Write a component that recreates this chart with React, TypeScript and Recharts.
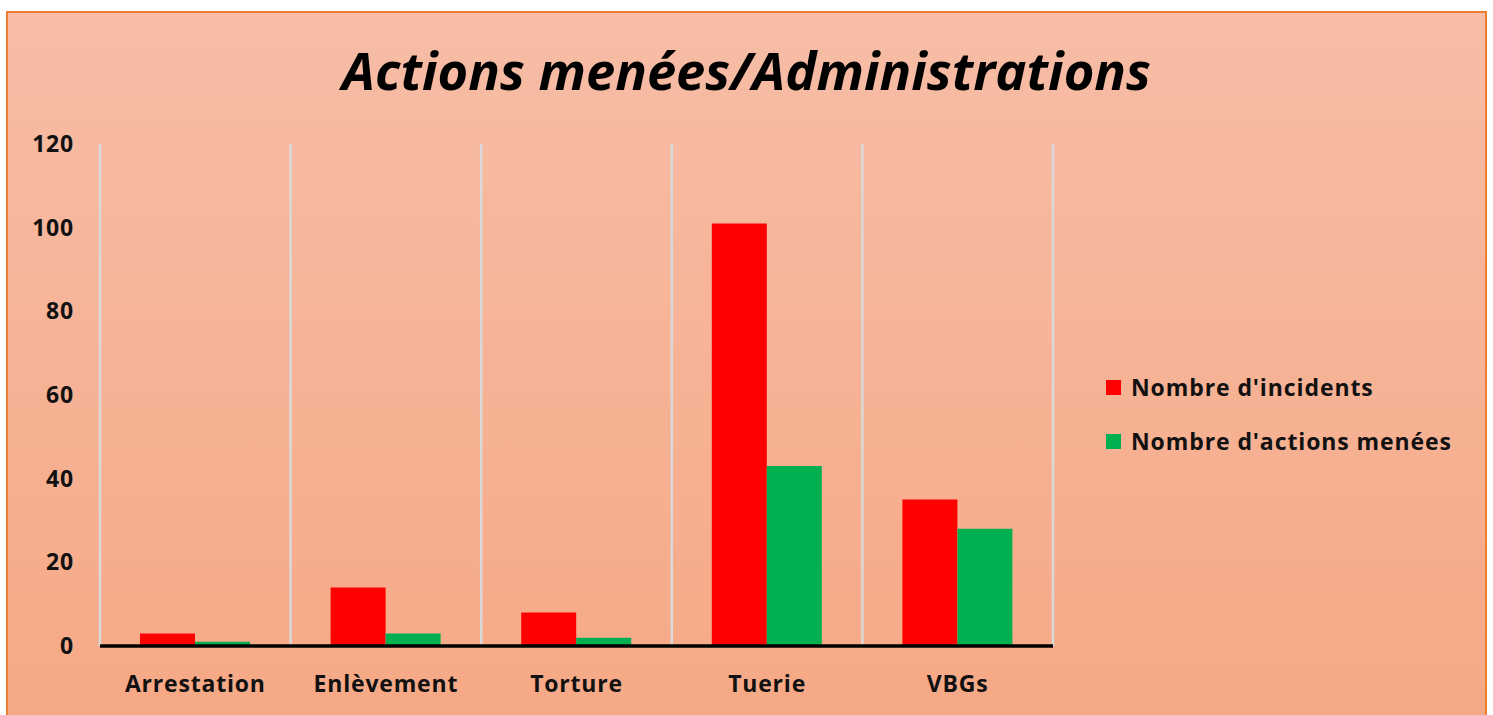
import { BarChart, Bar, XAxis, YAxis, CartesianGrid } from 'recharts';

const categories = ['Arrestation', 'Enlèvement', 'Torture', 'Tuerie', 'VBGs'];
const incidents = [3, 14, 8, 101, 35];
const actions = [1, 3, 2, 43, 28];
const yTicks = [0, 20, 40, 60, 80, 100, 120];

const SERIES = [
  { key: 'incidents', name: "Nombre d'incidents", color: '#ff0000' },
  { key: 'actions', name: "Nombre d'actions menées", color: '#00b050' },
];

const FONT = '"Open Sans", sans-serif';
const TICK = { fontFamily: FONT, fontWeight: 700, fontSize: 23, fill: '#111', letterSpacing: 0.8 };

const data = categories.map((c, i) => ({ name: c, incidents: incidents[i], actions: actions[i] }));

// legend sits outside the chart so it doesn't eat into the plot area
function LegendBox() {
  return (
    <div
      style={{
        position: 'absolute',
        left: 1106,
        top: 360,
        fontFamily: FONT,
        fontWeight: 700,
        fontSize: 23,
        letterSpacing: 0.9,
        color: '#111',
      }}
    >
      {SERIES.map((s) => (
        <div key={s.key} style={{ display: 'flex', alignItems: 'center', height: 54 }}>
          <div style={{ width: 15, height: 15, background: s.color, marginRight: 10 }} />
          {s.name}
        </div>
      ))}
    </div>
  );
}

export default function App() {
  return (
    <div style={{ position: 'fixed', inset: 0, overflow: 'hidden', background: '#fff' }}>
      <div
        style={{
          position: 'absolute',
          left: 6,
          top: 11,
          width: 1477,
          height: 720,
          border: '2px solid #ed7d31',
          background: 'linear-gradient(to bottom, #f7bda6, #f6a885)',
        }}
      />
      <div
        style={{
          position: 'absolute',
          left: 0,
          top: 35,
          width: 1493,
          textAlign: 'center',
          fontFamily: FONT,
          fontWeight: 700,
          fontStyle: 'italic',
          fontSize: 52.5,
          lineHeight: '70px',
          color: '#000',
        }}
      >
        Actions menées/Administrations
      </div>
      <div style={{ position: 'absolute', left: 0, top: 0 }}>
        <BarChart
          width={1493}
          height={715}
          data={data}
          margin={{ top: 144, right: 440, bottom: 0, left: 0 }}
          barGap={0}
          barSize={55}
        >
          <CartesianGrid
            horizontal={false}
            stroke="#d9d9d9"
            strokeWidth={2.5}
            verticalCoordinatesGenerator={({ offset }: any) =>
              categories.concat('').map((_, i) => offset.left + (i * offset.width) / categories.length)
            }
          />
          <XAxis
            dataKey="name"
            height={69}
            axisLine={{ stroke: '#000', strokeWidth: 3.5 }}
            tickLine={false}
            tickMargin={24}
            tick={TICK}
          />
          <YAxis
            width={100}
            domain={[0, 120]}
            ticks={yTicks}
            axisLine={false}
            tickLine={false}
            tickMargin={20}
            tick={TICK}
          />
          {SERIES.map((s) => (
            <Bar key={s.key} dataKey={s.key} name={s.name} fill={s.color} isAnimationActive={false} />
          ))}
        </BarChart>
      </div>
      <LegendBox />
    </div>
  );
}
